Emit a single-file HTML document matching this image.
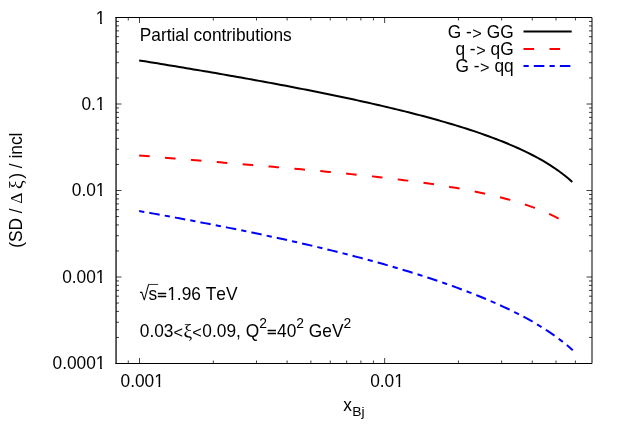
<!DOCTYPE html>
<html><head><meta charset="utf-8"><title>Partial contributions</title>
<style>
html,body{margin:0;padding:0;background:#fff;}
svg{display:block;will-change:transform;}
text{font-family:"Liberation Sans",sans-serif;font-size:17.33px;fill:#000;font-kerning:none;}
.t{stroke:#000;stroke-width:1;fill:none;}
.c{fill:none;stroke-width:2;stroke-linejoin:round;}
.m{fill:#fff;stroke:none;}
</style></head>
<body>
<svg width="623" height="436" viewBox="0 0 623 436">
<rect x="0" y="0" width="623" height="436" fill="#fff"/>
<path class="t" style="stroke-width:0.75" d="M116.00 17.50h5.50M592.00 17.50h-5.50M116.00 104.00h5.50M592.00 104.00h-5.50M116.00 77.96h3.00M592.00 77.96h-3.00M116.00 62.73h3.00M592.00 62.73h-3.00M116.00 51.92h3.00M592.00 51.92h-3.00M116.00 43.54h3.00M592.00 43.54h-3.00M116.00 36.69h3.00M592.00 36.69h-3.00M116.00 30.90h3.00M592.00 30.90h-3.00M116.00 25.88h3.00M592.00 25.88h-3.00M116.00 21.46h3.00M592.00 21.46h-3.00M116.00 190.50h5.50M592.00 190.50h-5.50M116.00 164.46h3.00M592.00 164.46h-3.00M116.00 149.23h3.00M592.00 149.23h-3.00M116.00 138.42h3.00M592.00 138.42h-3.00M116.00 130.04h3.00M592.00 130.04h-3.00M116.00 123.19h3.00M592.00 123.19h-3.00M116.00 117.40h3.00M592.00 117.40h-3.00M116.00 112.38h3.00M592.00 112.38h-3.00M116.00 107.96h3.00M592.00 107.96h-3.00M116.00 277.00h5.50M592.00 277.00h-5.50M116.00 250.96h3.00M592.00 250.96h-3.00M116.00 235.73h3.00M592.00 235.73h-3.00M116.00 224.92h3.00M592.00 224.92h-3.00M116.00 216.54h3.00M592.00 216.54h-3.00M116.00 209.69h3.00M592.00 209.69h-3.00M116.00 203.90h3.00M592.00 203.90h-3.00M116.00 198.88h3.00M592.00 198.88h-3.00M116.00 194.46h3.00M592.00 194.46h-3.00M116.00 363.50h5.50M592.00 363.50h-5.50M116.00 337.46h3.00M592.00 337.46h-3.00M116.00 322.23h3.00M592.00 322.23h-3.00M116.00 311.42h3.00M592.00 311.42h-3.00M116.00 303.04h3.00M592.00 303.04h-3.00M116.00 296.19h3.00M592.00 296.19h-3.00M116.00 290.40h3.00M592.00 290.40h-3.00M116.00 285.38h3.00M592.00 285.38h-3.00M116.00 280.96h3.00M592.00 280.96h-3.00M128.28 363.50v-3.00M128.28 17.50v3.00M139.50 363.50v-5.50M139.50 17.50v5.50M213.30 363.50v-3.00M213.30 17.50v3.00M256.47 363.50v-3.00M256.47 17.50v3.00M287.10 363.50v-3.00M287.10 17.50v3.00M310.85 363.50v-3.00M310.85 17.50v3.00M330.26 363.50v-3.00M330.26 17.50v3.00M346.68 363.50v-3.00M346.68 17.50v3.00M360.89 363.50v-3.00M360.89 17.50v3.00M373.43 363.50v-3.00M373.43 17.50v3.00M384.65 363.50v-5.50M384.65 17.50v5.50M458.45 363.50v-3.00M458.45 17.50v3.00M501.62 363.50v-3.00M501.62 17.50v3.00M532.25 363.50v-3.00M532.25 17.50v3.00M556.00 363.50v-3.00M556.00 17.50v3.00M575.41 363.50v-3.00M575.41 17.50v3.00"/>
<path class="t" d="M115.50 17.50H592.00V363.50H115.50"/>
<path d="M116.05 17.00V364.00" stroke="#000" stroke-width="1.24" fill="none"/>
<path class="c" stroke="#000" d="M139.15 60.42L142.79 61.00L146.43 61.59L150.07 62.18L153.71 62.77L157.35 63.36L160.99 63.95L164.63 64.55L168.27 65.14L171.91 65.74L175.55 66.35L179.19 66.95L182.83 67.55L186.47 68.16L190.11 68.77L193.75 69.39L197.39 70.00L201.03 70.62L204.67 71.24L208.31 71.86L211.95 72.48L215.59 73.11L219.23 73.74L222.87 74.37L226.51 75.01L230.15 75.65L233.79 76.29L237.43 76.93L241.07 77.58L244.71 78.23L248.35 78.88L251.99 79.54L255.63 80.20L259.27 80.86L262.91 81.53L266.55 82.20L270.19 82.87L273.83 83.55L277.47 84.23L281.11 84.91L284.75 85.60L288.39 86.30L292.03 86.99L295.67 87.69L299.31 88.40L302.95 89.11L306.59 89.82L310.23 90.54L313.87 91.27L317.51 91.99L321.15 92.73L324.79 93.47L328.43 94.21L332.07 94.96L335.71 95.72L339.35 96.48L342.99 97.24L346.63 98.02L350.27 98.80L353.91 99.58L357.54 100.38L361.18 101.18L364.82 101.98L368.46 102.80L372.10 103.62L375.74 104.45L379.38 105.29L383.02 106.13L386.66 106.99L390.30 107.85L393.94 108.73L397.58 109.61L401.22 110.50L404.86 111.40L408.50 112.32L412.14 113.24L415.78 114.18L419.42 115.12L423.06 116.08L426.70 117.06L430.34 118.04L433.98 119.05L437.62 120.06L441.26 121.09L444.90 122.14L448.54 123.20L452.18 124.28L455.82 125.38L459.46 126.50L463.10 127.63L466.74 128.79L470.38 129.97L474.02 131.17L477.66 132.40L481.30 133.66L484.94 134.94L488.58 136.24L492.22 137.58L495.86 138.96L499.50 140.36L503.14 141.80L506.78 143.28L510.42 144.81L514.06 146.37L517.70 147.99L521.34 149.65L524.98 151.37L528.62 153.15L532.26 155.00L535.90 156.91L539.54 158.90L543.18 160.98L546.82 163.14L550.46 165.41L554.10 167.80L557.74 170.31L561.38 172.96L565.02 175.77L568.66 178.77L572.30 181.98"/>
<path class="c" stroke="#f00" stroke-dasharray="10.6 15.37" d="M139.15 155.43L142.68 155.74L146.21 156.05L149.74 156.35L153.28 156.66L156.81 156.97L160.34 157.27L163.87 157.58L167.40 157.88L170.93 158.18L174.47 158.48L178.00 158.78L181.53 159.09L185.06 159.39L188.59 159.68L192.12 159.98L195.65 160.28L199.19 160.58L202.72 160.88L206.25 161.17L209.78 161.47L213.31 161.77L216.84 162.07L220.37 162.36L223.91 162.66L227.44 162.96L230.97 163.26L234.50 163.55L238.03 163.85L241.56 164.15L245.10 164.45L248.63 164.75L252.16 165.05L255.69 165.35L259.22 165.65L262.75 165.96L266.28 166.26L269.82 166.56L273.35 166.87L276.88 167.18L280.41 167.49L283.94 167.80L287.47 168.11L291.01 168.42L294.54 168.74L298.07 169.05L301.60 169.37L305.13 169.69L308.66 170.02L312.19 170.34L315.73 170.67L319.26 171.00L322.79 171.34L326.32 171.67L329.85 172.01L333.38 172.35L336.91 172.70L340.45 173.05L343.98 173.40L347.51 173.76L351.04 174.12L354.57 174.49L358.10 174.86L361.64 175.23L365.17 175.61L368.70 176.00L372.23 176.38L375.76 176.78L379.29 177.18L382.82 177.59L386.36 178.00L389.89 178.42L393.42 178.85L396.95 179.28L400.48 179.72L404.01 180.17L407.54 180.63L411.08 181.09L414.61 181.57L418.14 182.05L421.67 182.54L425.20 183.05L428.73 183.56L432.27 184.08L435.80 184.62L439.33 185.17L442.86 185.73L446.39 186.31L449.92 186.89L453.45 187.50L456.99 188.11L460.52 188.75L464.05 189.40L467.58 190.07L471.11 190.76L474.64 191.46L478.18 192.19L481.71 192.94L485.24 193.71L488.77 194.51L492.30 195.33L495.83 196.18L499.36 197.06L502.90 197.97L506.43 198.91L509.96 199.88L513.49 200.89L517.02 201.94L520.55 203.04L524.08 204.17L527.62 205.36L531.15 206.59L534.68 207.88L538.21 209.23L541.74 210.65L545.27 212.14L548.81 213.70L552.34 215.34L555.87 217.08L559.40 218.92"/>
<path class="c" stroke="#00f" stroke-dasharray="5.25 5.09 10.5 5.13" d="M139.15 211.02L142.79 211.66L146.44 212.32L150.08 212.97L153.72 213.62L157.37 214.28L161.01 214.94L164.66 215.61L168.30 216.27L171.94 216.94L175.59 217.61L179.23 218.29L182.87 218.97L186.52 219.65L190.16 220.33L193.81 221.02L197.45 221.71L201.09 222.41L204.74 223.11L208.38 223.81L212.02 224.52L215.67 225.23L219.31 225.94L222.96 226.66L226.60 227.38L230.24 228.11L233.89 228.84L237.53 229.57L241.17 230.31L244.82 231.06L248.46 231.81L252.10 232.56L255.75 233.32L259.39 234.09L263.04 234.86L266.68 235.63L270.32 236.41L273.97 237.20L277.61 237.99L281.25 238.79L284.90 239.59L288.54 240.40L292.19 241.21L295.83 242.04L299.47 242.86L303.12 243.70L306.76 244.54L310.40 245.39L314.05 246.24L317.69 247.11L321.33 247.98L324.98 248.86L328.62 249.74L332.27 250.63L335.91 251.53L339.55 252.44L343.20 253.36L346.84 254.29L350.48 255.22L354.13 256.17L357.77 257.12L361.42 258.08L365.06 259.05L368.70 260.04L372.35 261.03L375.99 262.03L379.63 263.04L383.28 264.07L386.92 265.10L390.57 266.15L394.21 267.21L397.85 268.28L401.50 269.36L405.14 270.46L408.78 271.56L412.43 272.69L416.07 273.82L419.71 274.97L423.36 276.14L427.00 277.32L430.65 278.51L434.29 279.73L437.93 280.95L441.58 282.20L445.22 283.47L448.86 284.75L452.51 286.05L456.15 287.37L459.80 288.71L463.44 290.08L467.08 291.46L470.73 292.87L474.37 294.31L478.01 295.77L481.66 297.25L485.30 298.77L488.94 300.31L492.59 301.88L496.23 303.49L499.88 305.13L503.52 306.80L507.16 308.51L510.81 310.26L514.45 312.06L518.09 313.90L521.74 315.78L525.38 317.72L529.03 319.72L532.67 321.77L536.31 323.89L539.96 326.08L543.60 328.34L547.24 330.68L550.89 333.12L554.53 335.66L558.18 338.31L561.82 341.08L565.46 343.99L569.11 347.07L572.75 350.32"/>
<path class="c" stroke="#000" d="M523.5 31.5H571.7"/>
<path class="c" stroke="#f00" stroke-dasharray="10.6 15.4" d="M523.5 48.95H571.7"/>
<path class="c" stroke="#00f" stroke-dasharray="5.25 5.1 10.5 5.15" d="M523.5 66.1H571.7"/>
<text transform="translate(447.74 37.90) scale(1 1.080)">G -</text>
<text x="472.36" y="38.72" style="font-size:16.29px">&gt;</text>
<text transform="translate(486.74 37.90) scale(1 1.080)">GG</text>
<text transform="translate(455.42 55.10) scale(1 1.080)">q -</text>
<text x="476.20" y="55.92" style="font-size:16.29px">&gt;</text>
<text transform="translate(490.58 55.10) scale(1 1.080)">qG</text>
<text transform="translate(455.42 72.20) scale(1 1.080)">G -</text>
<text x="480.04" y="73.02" style="font-size:16.29px">&gt;</text>
<text transform="translate(494.42 72.20) scale(1 1.080)">qq</text>
<text transform="translate(95.86 23.60) scale(1 1.045)">1</text>
<rect class="m" x="96.58" y="20.95" width="3.54" height="3.55"/><rect class="m" x="101.85" y="20.95" width="3.40" height="3.55"/>
<text transform="translate(81.41 110.00) scale(1 1.045)">0.1</text>
<rect class="m" x="96.58" y="107.35" width="3.54" height="3.55"/><rect class="m" x="101.85" y="107.35" width="3.40" height="3.55"/>
<text transform="translate(71.77 196.00) scale(1 1.045)">0.01</text>
<rect class="m" x="96.58" y="193.35" width="3.54" height="3.55"/><rect class="m" x="101.85" y="193.35" width="3.40" height="3.55"/>
<text transform="translate(62.13 283.00) scale(1 1.045)">0.001</text>
<rect class="m" x="96.58" y="280.35" width="3.54" height="3.55"/><rect class="m" x="101.85" y="280.35" width="3.40" height="3.55"/>
<text transform="translate(52.49 369.00) scale(1 1.045)">0.0001</text>
<rect class="m" x="96.58" y="366.35" width="3.54" height="3.55"/><rect class="m" x="101.85" y="366.35" width="3.40" height="3.55"/>
<text transform="translate(120.52 387.00) scale(1 1.045)">0.001</text>
<rect class="m" x="154.97" y="384.35" width="3.54" height="3.55"/><rect class="m" x="160.24" y="384.35" width="3.40" height="3.55"/>
<text transform="translate(370.14 387.00) scale(1 1.045)">0.01</text>
<rect class="m" x="394.95" y="384.35" width="3.54" height="3.55"/><rect class="m" x="400.22" y="384.35" width="3.40" height="3.55"/>
<text transform="translate(343.30 411.40) scale(1 1.080)">x</text>
<text transform="translate(352.15 416.00) scale(1 0.950)" style="font-size:13.90px">Bj</text>
<g transform="translate(22.3 247.85) rotate(-90)">
<text transform="translate(0.00 0.00) scale(1 1.080)">(SD /</text>
<text transform="translate(44.20 -0.45) scale(1.00 1.020)" style="font-family:'Liberation Serif',serif;font-size:17.33px">Δ</text>
<text transform="translate(58.84 0.00) scale(1.12 1.070)" style="font-family:'Liberation Serif',serif;font-size:17.33px">ξ</text>
<text transform="translate(69.13 0.00) scale(1 1.080)">) / incl</text>
</g>
<text transform="translate(139.75 40.50) scale(1 1.080)">Partial contributions</text>
<text transform="translate(139.4 299.8) scale(1 1.106)">√</text>
<path d="M148.0 284.45H158.1" stroke="#000" stroke-width="0.8" fill="none"/>
<text transform="translate(148.45 300.10) scale(1 1.050)">s</text>
<text transform="translate(157.41 299.40) scale(0.9 0.633)" style="font-size:17.33px;stroke:#000;stroke-width:0.7;vector-effect:non-scaling-stroke">=</text>
<text transform="translate(167.24 300.10) scale(1 1.050)">1.96 TeV</text>
<rect class="m" x="167.96" y="297.44" width="3.54" height="3.56"/><rect class="m" x="173.22" y="297.44" width="3.40" height="3.56"/>
<text transform="translate(139.80 337.00) scale(1 1.080)">0.03</text>
<text x="173.58" y="337.82" style="font-size:16.29px">&lt;</text>
<text transform="translate(183.44 337.00) scale(1.12 1.070)" style="font-family:'Liberation Serif',serif;font-size:17.33px">ξ</text>
<text x="192.28" y="337.82" style="font-size:16.29px">&lt;</text>
<text transform="translate(202.35 337.00) scale(1 1.080)">0.09, Q</text>
<text transform="translate(259.18 327.65) scale(1 1.080)" style="font-size:13.87px">2</text>
<text transform="translate(267.20 336.30) scale(0.9 0.633)" style="font-size:17.33px;stroke:#000;stroke-width:0.7;vector-effect:non-scaling-stroke">=</text>
<text transform="translate(277.02 337.00) scale(1 1.080)">40</text>
<text transform="translate(296.30 327.65) scale(1 1.080)" style="font-size:13.87px">2</text>
<text transform="translate(308.82 337.00) scale(1 1.080)">GeV</text>
<text transform="translate(343.50 327.65) scale(1 1.080)" style="font-size:13.87px">2</text>
</svg>
</body></html>
